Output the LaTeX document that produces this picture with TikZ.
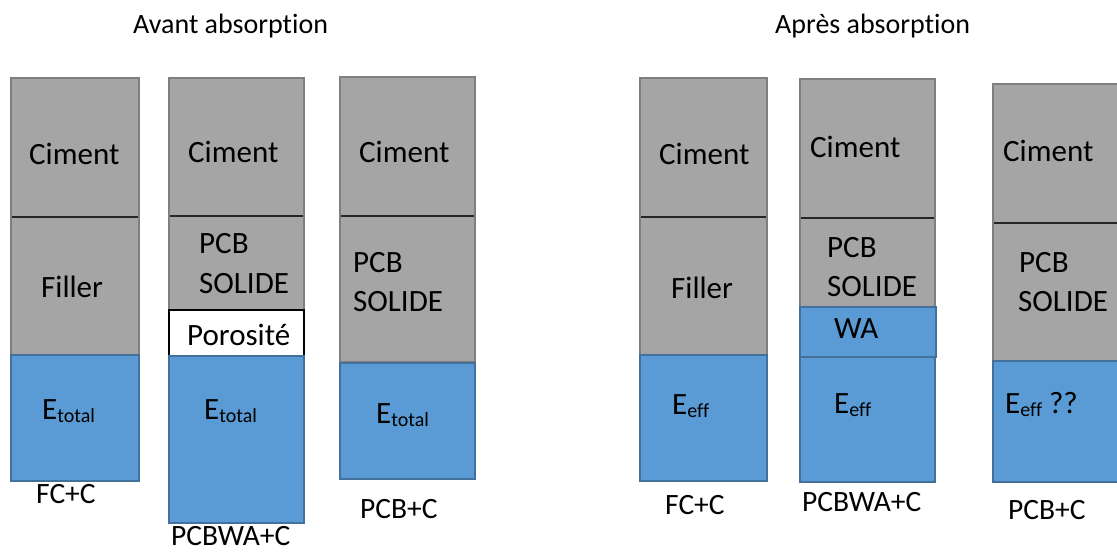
\documentclass[tikz,border=0pt]{standalone}
\usepackage{fontspec}
\setmainfont{Carlito}[Ligatures=NoCommon]
\definecolor{cgrey}{HTML}{A5A5A5}
\definecolor{cgreyb}{HTML}{7F7F7F}
\definecolor{cblue}{HTML}{5B9BD5}
\definecolor{cblueb}{HTML}{41719C}
\newcommand{\sub}[1]{{\fontsize{20}{20}\selectfont\raisebox{-3pt}{#1}}}
\tikzset{
  greybox/.style={fill=cgrey,draw=cgreyb,line width=2pt},
  bluebox/.style={fill=cblue,draw=cblueb,line width=2pt},
  porebox/.style={fill=white,draw=black,line width=1.5pt},
  divider/.style={draw=black!85,line width=1.2pt},
  intext/.style={anchor=base west,inner sep=0pt,font=\fontsize{31}{37}\selectfont},
  lbl/.style={anchor=base west,inner sep=0pt,font=\fontsize{29.5}{35}\selectfont},
  ttl/.style={anchor=base west,inner sep=0pt,font=\fontsize{28}{34}\selectfont}
}
\begin{document}
\begin{tikzpicture}[x=1pt,y=-1pt]
\useasboundingbox (0,0) rectangle (1117,552);
\clip (0,0) rectangle (1117,552);
% titles
\node[ttl] (t1) at (133,33) {Avant absorption};
\node[ttl] (t2) at (775,33) {Après absorption};
% column 1
\draw[greybox] (11,78) rectangle (139,355);
\draw[divider] (12,217) -- (138,217);
\draw[bluebox] (11,355) rectangle (139,481);
\node[intext] (c1a) at (29,164) {Ciment};
\node[intext] (c1b) at (41,297) {Filler};
\node[intext] (c1c) at (42,419) {E\sub{total}};
\node[lbl] (c1d) at (36,503) {FC+C};
% column 2
\draw[greybox] (169,78) rectangle (304,310);
\draw[divider] (170,216) -- (303,216);
\draw[porebox] (169,310) rectangle (304,356);
\draw[bluebox] (169,356) rectangle (304,523);
\node[intext] (c2a) at (188,162) {Ciment};
\node[intext] (c2b) at (199,253) {PCB};
\node[intext] (c2c) at (199,293) {SOLIDE};
\node[intext] (c2d) at (187,345) {Porosité};
\node[intext] (c2e) at (204,419) {E\sub{total}};
\node[lbl,text depth=0pt] (c2f) at (171,545) {PCBWA+C};
% column 3
\draw[greybox] (340,77) rectangle (475,362);
\draw[divider] (341,216) -- (474,216);
\draw[bluebox] (340,363) rectangle (475,479);
\node[intext] (c3a) at (359,162) {Ciment};
\node[intext] (c3b) at (353,272) {PCB};
\node[intext] (c3c) at (353,311) {SOLIDE};
\node[intext] (c3d) at (376,423) {E\sub{total}};
\node[lbl] (c3e) at (360,518) {PCB+C};
% column 4
\draw[greybox] (640,78) rectangle (767,355);
\draw[divider] (641,217) -- (766,217);
\draw[bluebox] (640,355) rectangle (767,481);
\node[intext] (c4a) at (659,164) {Ciment};
\node[intext] (c4b) at (671,298) {Filler};
\node[intext] (c4c) at (672,414) {E\sub{eff}};
\node[lbl] (c4d) at (665,514) {FC+C};
% column 5
\draw[greybox] (800,79) rectangle (935,307);
\draw[divider] (801,218) -- (934,218);
\draw[bluebox] (800,357) rectangle (935,482);
\draw[bluebox] (800,307) rectangle (936,357);
\node[intext] (c5a) at (810,157) {Ciment};
\node[intext] (c5b) at (827,257) {PCB};
\node[intext] (c5c) at (827,296) {SOLIDE};
\node[intext] (c5d) at (834,338) {WA};
\node[intext] (c5e) at (834,413) {E\sub{eff}};
\node[lbl] (c5f) at (802,511) {PCBWA+C};
% column 6
\draw[greybox] (993,84) rectangle (1130,361);
\draw[divider] (994,223) -- (1130,223);
\draw[bluebox] (993,361) rectangle (1130,482);
\node[intext] (c6a) at (1003,161) {Ciment};
\node[intext] (c6b) at (1019,272) {PCB};
\node[intext] (c6c) at (1018,311) {SOLIDE};
\node[intext] (c6d) at (1005,413) {E\sub{eff} ??};
\node[lbl] (c6e) at (1008,519) {PCB+C};
\end{tikzpicture}
\end{document}
